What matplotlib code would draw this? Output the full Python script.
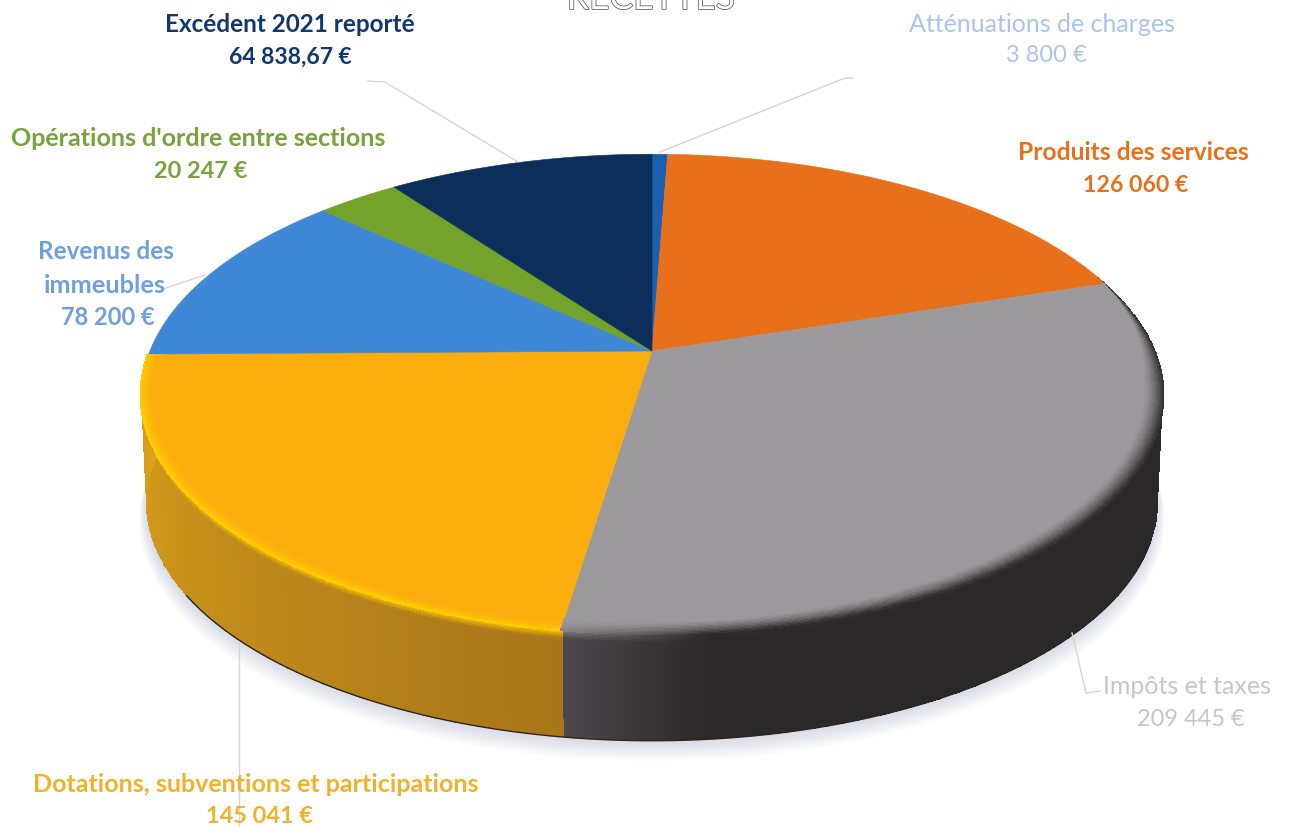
import numpy as np
import matplotlib
matplotlib.use("Agg")
import matplotlib.pyplot as plt
from matplotlib.colors import to_rgb
import matplotlib.patheffects as pe

# Recettes, clockwise from the top of the pie
categories = ["Atténuations de charges", "Produits des services", "Impôts et taxes",
              "Dotations, subventions et participations", "Revenus des immeubles",
              "Opérations d'ordre entre sections", "Excédent 2021 reporté"]
values = [3800, 126060, 209445, 145041, 78200, 20247, 64838.67]
value_labels = ["3 800 €", "126 060 €", "209 445 €", "145 041 €", "78 200 €", "20 247 €", "64 838,67 €"]
colors = ["#1a5fb0", "#e9701a", "#9c999c", "#fbad0d", "#3f88d6", "#73a32a", "#0c2e5b"]
text_colors = ["#a9c4ee", "#e9701a", "#c6c6ca", "#f2b12c", "#6f9fdc", "#76a33a", "#12376f"]

plt.rcParams['font.family'] = ['Lato', 'DejaVu Sans']

# pie geometry in picture pixels
CX, CY = 652.0, 352.0
A, B, K = 502.0, 232.0, 0.179
DEPTH = 110.0


def project(theta, r=1.0, z=0.0):
    # theta in degrees clockwise from the top, z 0 (top face) to 1 (bottom)
    t = np.radians(theta)
    x = r * np.sin(t)
    y = r * np.cos(t)
    w = 1 + K * y
    s = 1 - 0.01 * z
    return CX + s * A * x / w, CY + DEPTH * z - s * B * y / w


def mix(c1, c2, f):
    c1 = np.asarray(c1)
    c2 = np.asarray(c2)
    return c1 + (c2 - c1) * f


fig = plt.figure(figsize=(12.92, 8.28), dpi=100)
ax = fig.add_axes([0, 0, 1, 1])
ax.set_xlim(0, 1292)
ax.set_ylim(828, 0)
ax.axis('off')

angles = np.cumsum([0] + values) / sum(values) * 360
start = dict(zip(categories, angles[:-1]))
stop = dict(zip(categories, angles[1:]))
split = stop["Impôts et taxes"]
left_end = stop["Dotations, subventions et participations"]

# soft shadow under the disc
around = np.linspace(0, 360, 361)
for i in range(12, 0, -1):
    sx, sy = project(around, 1 + i * 0.0012, 1.0)
    ax.fill(sx, sy + i * 1.3, color="#a4abc4", alpha=0.035, lw=0, zorder=1)


def side_color(th):
    # colour of the outer wall along the rim
    if th < split:
        f = np.clip((split - th) / 14.0, 0, 1)
        return mix(to_rgb("#4d494c"), to_rgb("#2a2829"), f)
    f = np.clip((th - split) / (left_end - split), 0, 1)
    return mix(to_rgb("#a9761a"), to_rgb("#dca21a"), f)


def rim_color(th):
    if th < split:
        f = np.clip((split - th) / 14.0, 0, 1)
        return mix(to_rgb("#8a8688"), to_rgb("#2f2c2d"), f)
    return np.array(to_rgb("#ffd000"))


# outer wall
th_wall = np.linspace(stop["Produits des services"] - 2, left_end + 3, 500)
z_wall = np.concatenate([np.linspace(0, 0.08, 7), np.linspace(0.14, 1, 6)])
wx = np.array([project(th_wall, 1.0, z)[0] for z in z_wall])
wy = np.array([project(th_wall, 1.0, z)[1] for z in z_wall])
wall = np.zeros((len(z_wall) - 1, len(th_wall) - 1, 3))
for j in range(len(th_wall) - 1):
    tm = (th_wall[j] + th_wall[j + 1]) / 2
    for i in range(len(z_wall) - 1):
        zm = (z_wall[i] + z_wall[i + 1]) / 2
        wall[i, j] = mix(rim_color(tm), side_color(tm), np.clip(zm / 0.08, 0, 1))
ax.pcolormesh(wx, wy, wall, shading='flat', antialiased=False, zorder=2, rasterized=True)

# dark line where the disc meets the table
bx, by = project(np.linspace(110, 238, 200), 1.0, 1.0)
ax.plot(bx, by, color="#2a2620", lw=1.0, zorder=3)

# top face
for name, col in zip(categories, colors):
    arc = np.linspace(start[name], stop[name], 200)
    px, py = project(arc)
    ax.fill(np.r_[CX, px], np.r_[CY, py], facecolor=col, edgecolor=col, lw=0.4, zorder=4)

# bevel along the front edge of the top face, a hair past the rim to hide the seam
th_bev = np.linspace(stop["Produits des services"], left_end, 500)
r_bev = np.linspace(0.965, 1.004, 11)
rx = np.array([project(th_bev, 1 - (1 - r) * np.clip((th_bev - 72) / 25, 0.02, 1))[0] for r in r_bev])
ry = np.array([project(th_bev, 1 - (1 - r) * np.clip((th_bev - 72) / 25, 0.02, 1))[1] for r in r_bev])
bev = np.zeros((len(r_bev) - 1, len(th_bev) - 1, 3))
for j in range(len(th_bev) - 1):
    tm = (th_bev[j] + th_bev[j + 1]) / 2
    top = to_rgb(colors[2]) if tm < split else to_rgb(colors[3])
    power = 1.4 if tm < split else 3.0
    for i in range(len(r_bev) - 1):
        f = (i + 0.5) / (len(r_bev) - 1)
        bev[i, j] = mix(top, rim_color(tm), f ** power)
ax.pcolormesh(rx, ry, bev, shading='flat', antialiased=False, zorder=5, rasterized=True)

# leader lines
leaders = [([853, 845, 660], [79, 79, 153]),
           ([1100, 1086, 1072], [692, 694, 634]),
           ([239, 239], [644, 828]),
           ([160, 205], [291, 276]),
           ([368, 385, 518], [82, 83, 163])]
for lx, ly in leaders:
    ax.plot(lx, ly, color="#d6d6d6", lw=1.0, zorder=6)

# labels: name x, name y, value x, value y, font size
label_spots = {
    "Atténuations de charges": (1042, 24, 1046, 55, 18.0),
    "Produits des services": (1133, 152, 1136, 185, 17.7),
    "Impôts et taxes": (1187, 687, 1191, 720, 18.0),
    "Dotations, subventions et participations": (256, 785, 259, 817, 18.0),
    "Opérations d'ordre entre sections": (198, 139, 201, 171, 18.0),
    "Excédent 2021 reporté": (290, 25, 290, 57, 17.5),
}
for name, val, col in zip(categories, value_labels, text_colors):
    if name == "Revenus des immeubles":
        continue
    tx, y1, vx, y2, size = label_spots[name]
    light = name in ("Atténuations de charges", "Impôts et taxes")
    weight = 'normal' if light else 'bold'
    ax.text(tx, y1, name, color=col, fontsize=size, fontweight=weight, ha='center', va='center', zorder=7)
    ax.text(vx, y2, val, color=col, fontsize=size * 0.94, fontweight=weight, ha='center', va='center', zorder=7)

# this one wraps on two lines in the original
col = text_colors[4]
ax.text(106, 252, "Revenus des", color=col, fontsize=17.5, fontweight='bold', ha='center', va='center', zorder=7)
ax.text(105, 286, "immeubles", color=col, fontsize=18.3, fontweight='bold', ha='center', va='center', zorder=7)
ax.text(108, 318, value_labels[4], color=col, fontsize=17, fontweight='bold', ha='center', va='center', zorder=7)

# title, cut by the top of the page
ax.text(651, 10, "RECETTES", color="white", fontsize=25.5, ha='center', va='baseline', zorder=7,
        path_effects=[pe.withStroke(linewidth=1.0, foreground="#444444")])

fig.savefig("out.png", dpi=100)
